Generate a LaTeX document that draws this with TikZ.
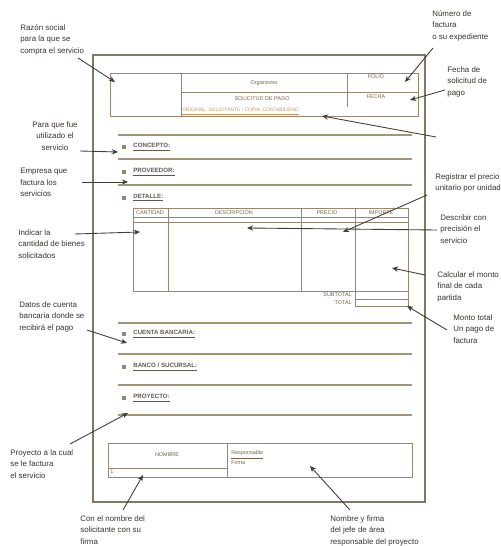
\documentclass[tikz,border=0pt]{standalone}
\usepackage{fontspec}
\setmainfont{Liberation Sans}
\usetikzlibrary{arrows.meta}
\definecolor{framec}{RGB}{132,120,100}
\definecolor{rulec}{RGB}{165,148,118}
\definecolor{cellc}{RGB}{150,136,112}
\definecolor{notec}{RGB}{55,50,42}
\definecolor{arrowc}{RGB}{65,60,52}
\definecolor{tagc}{RGB}{115,98,70}
\definecolor{itemc}{RGB}{95,88,78}
\definecolor{copyc}{RGB}{190,150,90}
\begin{document}
\begin{tikzpicture}[x=0.02cm,y=-0.02cm,
  page/.style={draw=framec, line width=1pt},
  rule/.style={draw=rulec, line width=0.8pt},
  cell/.style={draw=cellc, line width=0.5pt},
  note/.style={font=\fontsize{4.5}{6.6}\selectfont, text=notec, align=left, inner sep=0pt, anchor=north west},
  cnote/.style={note, align=center, anchor=north},
  tag/.style={font=\fontsize{3.1}{3.5}\selectfont, text=tagc, inner sep=0pt},
  item/.style={font=\fontsize{3.5}{4}\selectfont\bfseries, text=itemc, inner sep=0pt, anchor=west},
  bullet/.style={fill=cellc, minimum size=2pt, inner sep=0pt},
  pointer/.style={draw=arrowc, line width=0.5pt, -{Stealth[length=3.5pt,width=3pt]}},
]
\useasboundingbox (0,0) rectangle (500,546);

% sheet
\draw[page] (93,55) rectangle (425,502);

% header block
\draw[cell] (110,73) rectangle (418,116);
\draw[cell] (181,73) -- (181,116);
\draw[cell] (347,73) -- (347,107);
\draw[cell] (181,92) -- (418,92);
\node[tag] (org) at (264,83) {Organismo};
\node[tag] (title) at (262,99) {SOLICITUD DE PAGO};
\node[tag] (folio) at (376,77) {FOLIO};
\node[tag] (fecha) at (376,97) {FECHA};
\node[tag, anchor=west, text=copyc, font=\fontsize{2.8}{3.2}\selectfont] (copies) at (182,112) {\underline{ORIGINAL: SOLICITANTE / COPIA: CONTABILIDAD}};

% upper fields
\draw[rule] (118,135) -- (412,135);
\draw[rule] (118,159) -- (412,159);
\draw[rule] (118,185) -- (412,185);
\node[bullet] (b1) at (124,147) {};
\node[item] (f1) at (133,147) {\underline{CONCEPTO:}};
\node[bullet] (b2) at (124,172) {};
\node[item] (f2) at (133,172) {\underline{PROVEEDOR:}};
\node[bullet] (b3) at (124,198) {};
\node[item] (f3) at (133,198) {\underline{DETALLE:}};

% detail table
\draw[cell] (133,208) rectangle (408,291);
\draw[cell] (133,217) -- (408,217);
\draw[cell] (133,222) -- (408,222);
\draw[cell] (168,208) -- (168,291);
\draw[cell] (301,208) -- (301,291);
\draw[cell] (355,208) -- (355,291);
\node[tag] (h1) at (150,212.5) {CANTIDAD};
\node[tag] (h2) at (234,212.5) {DESCRIPCIÓN};
\node[tag] (h3) at (327,212.5) {PRECIO};
\node[tag] (h4) at (381,212.5) {IMPORTE};
\draw[cell] (355,291) rectangle (408,299);
\draw[cell] (355,299) rectangle (408,306);
\node[tag, anchor=east] (sub) at (352,294.5) {SUBTOTAL};
\node[tag, anchor=east] (tot) at (352,302.5) {TOTAL};

% lower fields
\draw[rule] (118,323) -- (412,323);
\draw[rule] (118,354) -- (412,354);
\draw[rule] (118,385) -- (412,385);
\draw[rule] (118,415) -- (412,415);
\node[bullet] (b4) at (124,334) {};
\node[item] (f4) at (133,334) {\underline{CUENTA BANCARIA:}};
\node[bullet] (b5) at (124,367) {};
\node[item] (f5) at (133,367) {\underline{BANCO / SUCURSAL:}};
\node[bullet] (b6) at (124,398) {};
\node[item] (f6) at (133,398) {\underline{PROYECTO:}};

% signature block
\draw[cell] (108,443) rectangle (412,477);
\draw[cell] (227,443) -- (227,477);
\draw[cell] (108,468) -- (227,468);
\node[tag] (nom) at (167,455) {NOMBRE};
\node[tag, anchor=north west, align=left] (resp) at (231,450) {\underline{Responsable}\\Firma};
\node[tag] (one) at (112,472) {1};

% annotations, left side
\node[note] (n1) at (20,24) {Razón social\\para la que se\\compra el servicio};
\node[cnote] (n2) at (55,121) {Para que fue\\utilizado el\\servicio};
\node[note] (n3) at (20,168) {Empresa que\\factura los\\servicios};
\node[note] (n4) at (18,229) {Indicar la\\cantidad de bienes\\solicitados};
\node[note] (n5) at (19,301) {Datos de cuenta\\bancaria donde se\\recibirá el pago};
\node[note] (n6) at (10,449) {Proyecto a la cual\\se le factura\\el servicio};
\node[note] (n7) at (80,515) {Con el nombre del\\solicitante con su\\firma};
\node[note] (n8) at (330,515) {Nombre y firma\\del jefe de área\\responsable del proyecto};

% annotations, right side
\node[note] (n9) at (432,10) {Número de\\factura\\o su expediente};
\node[note] (n10) at (447,66) {Fecha de\\solicitud de\\pago};
\node[note] (n11) at (435,173) {Registrar el precio\\unitario por unidad};
\node[note] (n12) at (440,214) {Describir con\\precisión el\\servicio};
\node[note] (n13) at (437,271) {Calcular el monto\\final de cada\\partida};
\node[note] (n14) at (453,314) {Monto total\\Un pago de\\factura};

% pointer ends
\coordinate (s1) at (78,58);   \coordinate (t1) at (115,82);
\coordinate (s2) at (80,151);  \coordinate (t2) at (118,152);
\coordinate (s3) at (82,182);  \coordinate (t3) at (128,182);
\coordinate (s4) at (75,234);  \coordinate (t4) at (140,232);
\coordinate (s5) at (87,330);  \coordinate (t5) at (127,343);
\coordinate (s6) at (70,444);  \coordinate (t6) at (128,413);
\coordinate (s7) at (123,510); \coordinate (t7) at (143,475);
\coordinate (s8) at (350,510); \coordinate (t8) at (310,466);
\coordinate (s9) at (433,48);  \coordinate (t9) at (405,82);
\coordinate (s10) at (445,90); \coordinate (t10) at (410,100);
\coordinate (s15) at (436,137); \coordinate (t15) at (322,116);
\coordinate (s11) at (427,195); \coordinate (t11) at (343,232);
\coordinate (s12) at (437,230); \coordinate (t12) at (247,228);
\coordinate (s13) at (425,275); \coordinate (t13) at (392,268);
\coordinate (s14) at (447,330); \coordinate (t14) at (407,306);

\foreach \k in {1,...,15} \draw[pointer] (s\k) -- (t\k);
\end{tikzpicture}
\end{document}
